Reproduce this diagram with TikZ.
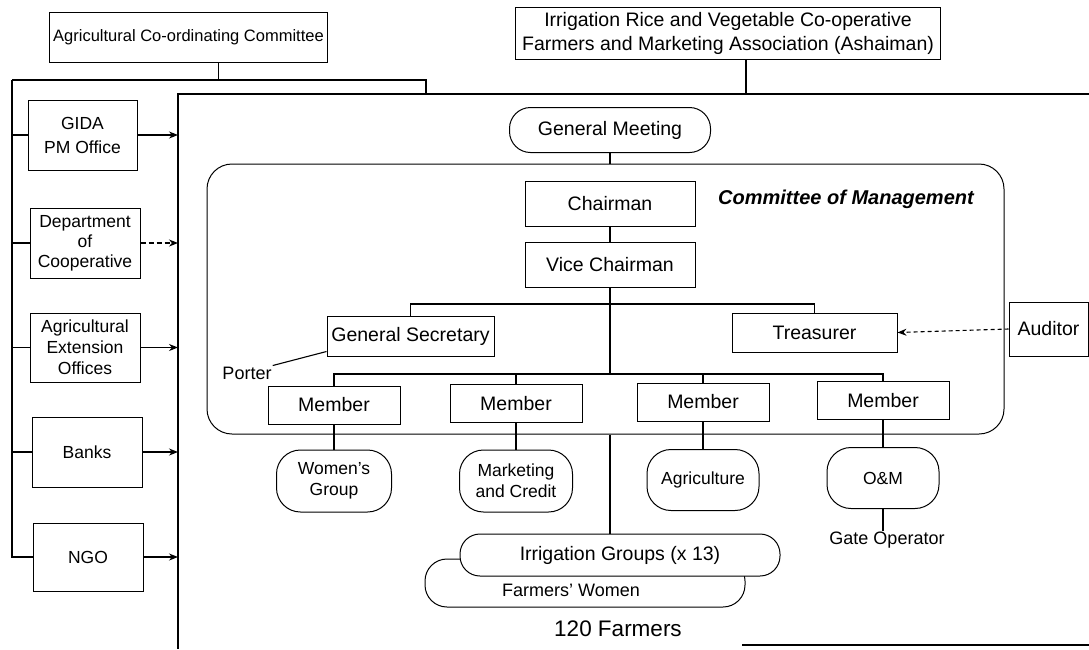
\documentclass[tikz,border=0pt]{standalone}
\usepackage{fontspec}
\setmainfont{Liberation Sans}
\usetikzlibrary{arrows.meta}
\newcommand{\fsz}[2]{\fontsize{#1}{#2}\selectfont}
\begin{document}
\begin{tikzpicture}[x=1pt,y=-1pt,
  box/.style={draw, line width=1pt, inner sep=1pt, align=center, font=\fsz{19.5}{24}},
  lbox/.style={draw, line width=1pt, inner sep=1pt, align=center, font=\fsz{17.5}{20}, minimum width=110pt, minimum height=70pt},
  pill/.style={draw, line width=1pt, rounded corners=24pt, inner sep=1pt, align=center, font=\fsz{17.5}{21}},
  conn/.style={line width=1.1pt},
  arr/.style={line width=1.1pt, -{Stealth[length=9pt,width=7pt]}},
  frameline/.style={line width=1.8pt},
  lbl/.style={inner sep=1pt, font=\fsz{18}{20}}
]
\useasboundingbox (0,0) rectangle (1089,649);

% top boxes
\node[box, font=\fsz{16.5}{20}, minimum width=278pt, minimum height=50pt] (acc) at (188.5,37) {Agricultural Co-ordinating Committee};
\node[box, minimum width=425pt, minimum height=52pt] (irvc) at (728,33) {Irrigation Rice and Vegetable Co-operative\\Farmers and Marketing Association (Ashaiman)};

% frame
\coordinate (ftl) at (178,94);
\coordinate (lv) at (12,80);
\coordinate (lvr) at (426,80);
\draw[frameline] (1089,94) -- (ftl) -- (178,649);
\draw[frameline] (742,645) -- (1089,645);
\draw[conn] ([xshift=30pt]acc.south) -- ([xshift=30pt]acc.south |- lv);
\draw[conn] (lv) -- (lvr) -- (lvr |- ftl);
\draw[conn] ([xshift=18pt]irvc.south) -- ([xshift=18pt]irvc.south |- ftl);

% left boxes
\node[lbox, font=\fsz{17.5}{24}, minimum width=109pt] (gida) at (82.5,135) {GIDA\\PM Office};
\node[lbox] (dept) at (85,243) {Department\\of\\Cooperative};
\node[lbox, font=\fsz{17.5}{21}, minimum height=69pt] (agext) at (85,347.5) {Agricultural\\Extension\\Offices};
\node[lbox] (banks) at (87,452) {Banks};
\node[lbox, minimum height=68pt] (ngo) at (88,557) {NGO};

\draw[conn] (lv) |- (ngo.west);
\foreach \b in {gida,dept,agext,banks}{
  \draw[conn] (\b.west -| lv) -- (\b.west);
}
\draw[arr] (gida.east) -- (gida.east -| ftl);
\draw[arr, dashed, dash pattern=on 5pt off 3pt] (dept.east) -- (dept.east -| ftl);
\draw[arr] (agext.east) -- (agext.east -| ftl);
\draw[arr] (banks.east) -- (banks.east -| ftl);
\draw[arr] (ngo.east) -- (ngo.east -| ftl);

% general meeting and committee
\node[pill, font=\fsz{19.5}{24}, rounded corners=21pt, minimum width=201pt, minimum height=45pt] (gm) at (610,130) {General Meeting};
\node[draw, line width=1pt, rounded corners=25pt, minimum width=797pt, minimum height=270pt, inner sep=0pt] (com) at (605.5,299) {};
\node[inner sep=1pt, font=\fsz{20}{24}\bfseries\itshape] (comlbl) at (846,199) {Committee of Management};
\draw[conn] (gm.south) -- (gm.south |- com.north);

\node[box, minimum width=170pt, minimum height=45pt] (chair) at (610,204) {Chairman};
\node[box, minimum width=170pt, minimum height=45pt] (vice) at (610,265) {Vice Chairman};
\draw[conn] (chair.south) -- (vice.north);

\node[box, minimum width=167pt, minimum height=40pt] (gs) at (410.5,336) {General Secretary};
\node[box, minimum width=165pt, minimum height=39pt] (tr) at (814.5,332.5) {Treasurer};
\node[box, minimum width=79pt, minimum height=54pt] (aud) at (1048.5,329) {Auditor};
\draw[arr, dashed, dash pattern=on 4pt off 3pt] (aud.west) -- (tr.east);

\coordinate (br) at (0,304);
\coordinate (bus) at (0,374);
\draw[conn] (vice.south) -- (vice.south |- bus);
\draw[conn] (gs.north) -- (gs.north |- br) -- (tr.north |- br) -- (tr.north);

\node[lbl] (porter) at (247,373) {Porter};
\draw[conn] ([yshift=5pt]gs.south west) -- (porter.north east);

% members
\node[box, minimum width=132pt, minimum height=38pt] (m1) at (334,405) {Member};
\node[box, minimum width=132pt, minimum height=38pt] (m2) at (516,403.5) {Member};
\node[box, minimum width=132pt, minimum height=38pt] (m3) at (703,402) {Member};
\node[box, minimum width=132pt, minimum height=38pt] (m4) at (883,400.5) {Member};
\draw[conn] (m1.north) -- (m1.north |- bus) -- (m4.north |- bus) -- (m4.north);
\draw[conn] (m2.north) -- (m2.north |- bus);
\draw[conn] (m3.north) -- (m3.north |- bus);

% groups
\node[pill, minimum width=115pt, minimum height=62pt] (wg) at (334,481) {Women's\\Group};
\node[pill, minimum width=113pt, minimum height=62pt] (mc) at (516,481) {Marketing\\and Credit};
\node[pill, minimum width=112pt, minimum height=61pt] (ag) at (703,480) {Agriculture};
\node[pill, minimum width=112pt, minimum height=61pt] (om) at (883,478) {O\&M};
\draw[conn] (m1.south) -- (wg.north);
\draw[conn] (m2.south) -- (mc.north);
\draw[conn] (m3.south) -- (ag.north);
\draw[conn] (m4.south) -- (om.north);

\node[lbl] (gate) at (887,540) {Gate Operator};
\draw[conn] (om.south) -- (om.south |- gate.north);

% irrigation groups
\node[draw, line width=1pt, rounded corners=22pt, minimum width=320pt, minimum height=48pt, inner sep=0pt] (fw) at (585,583) {};
\node[lbl] (fwtext) at (571,590) {Farmers' Women};
\node[pill, fill=white, font=\fsz{19.5}{24}, rounded corners=20pt, minimum width=320pt, minimum height=42pt] (ig) at (620,555) {Irrigation Groups (x 13)};
\draw[conn] (vice.south |- com.south) -- (vice.south |- ig.north);

\node[inner sep=1pt, font=\fsz{22.5}{26}] (farmers) at (618,629) {120 Farmers};
\end{tikzpicture}
\end{document}
